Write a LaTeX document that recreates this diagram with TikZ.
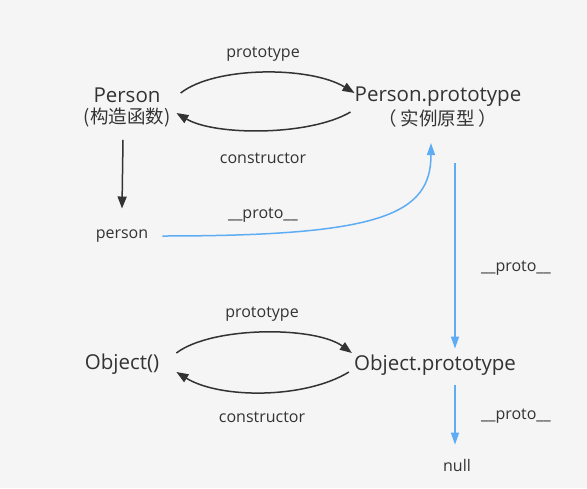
\documentclass[tikz,border=0pt]{standalone}
\usepackage{fontspec}
\usepackage{xcolor}
\setmainfont{Open Sans}
\newfontfamily\cjk{Noto Sans CJK SC}
\usetikzlibrary{arrows.meta}

\definecolor{bggray}{HTML}{F5F5F5}
\definecolor{inkgray}{HTML}{333333}
\definecolor{linkblue}{HTML}{5EADF4}

\tikzset{
  bigtext/.style={font=\fontsize{20.5}{24}\selectfont, text=inkgray, inner sep=0pt},
  cjktext/.style={font=\cjk\fontsize{18.5}{22}\selectfont, text=inkgray, inner sep=0pt},
  smalltext/.style={font=\fontsize{16}{19}\selectfont, text=inkgray, inner sep=0pt},
  darkarrow/.style={draw=inkgray, line width=1.5pt, -{Triangle[length=12pt,width=9pt]}},
  bluearrow/.style={draw=linkblue, line width=1.5pt, -{Triangle[length=12pt,width=8pt]}}
}

\begin{document}
\begin{tikzpicture}[x=1pt,y=-1pt]
    \fill[bggray] (0,0) rectangle (587,488);

    % Person and its prototype
    \node[bigtext] (ctor) at (127,95) {Person};
    \node[cjktext] (ctorcn) at (127,118) {(构造函数)};
    \node[bigtext] (pproto) at (438,97) {Person.prototype};
    \node[cjktext] (pprotocn) at (438,118) {（\hspace{4pt}实例原型\hspace{4pt}）};
    \node[smalltext] (lblproto) at (263,54) {prototype};
    \node[smalltext] (lblctor) at (263,158) {constructor};

    \draw[darkarrow] ([xshift=20pt,yshift=2pt]ctor.east) .. controls (215,66) and (310,66) .. ([yshift=4pt]pproto.west);
    \draw[darkarrow] ([xshift=-4pt,yshift=-15pt]pproto.west) .. controls (310,136) and (215,136) .. ([xshift=6pt,yshift=5pt]ctorcn.east);

    % instance
    \node[smalltext] (inst) at (122,236) {person};
    \node[smalltext] (lblinst) at (263,215) {\_\_proto\_\_};
    \draw[darkarrow] ([xshift=-4pt,yshift=-12pt]ctorcn.south) -- ([yshift=21pt]inst.north);
    \draw[bluearrow] ([xshift=14pt]inst.east) .. controls (380,236) and (431,215) .. ([xshift=-7pt,yshift=-16pt]pprotocn.south);

    % prototype chain
    \node[smalltext] (lblchain) at (516,268) {\_\_proto\_\_};
    \node[bigtext] (octor) at (122,364) {Object()};
    \node[bigtext] (oproto) at (435,365) {Object.prototype};
    \node[smalltext] (lbloproto) at (262,314) {prototype};
    \node[smalltext] (lbloctor) at (262,417) {constructor};
    \node[smalltext] (nullv) at (457,465) {null};
    \node[smalltext] (lblnull) at (516,416) {\_\_proto\_\_};

    \draw[bluearrow] ([xshift=17pt,yshift=-36pt]pprotocn.south) -- ([xshift=20pt,yshift=6pt]oproto.north);
    \draw[darkarrow] ([xshift=17pt,yshift=11pt]octor.east) .. controls (212,326) and (315,326) .. ([xshift=-2pt,yshift=12pt]oproto.west);
    \draw[darkarrow] ([xshift=-5pt,yshift=-7pt]oproto.west) .. controls (305,399) and (220,399) .. ([xshift=17pt,yshift=-8pt]octor.east);
    \draw[bluearrow] ([xshift=20pt,yshift=-10pt]oproto.south) -- ([xshift=-2pt,yshift=14pt]nullv.north);
\end{tikzpicture}
\end{document}
